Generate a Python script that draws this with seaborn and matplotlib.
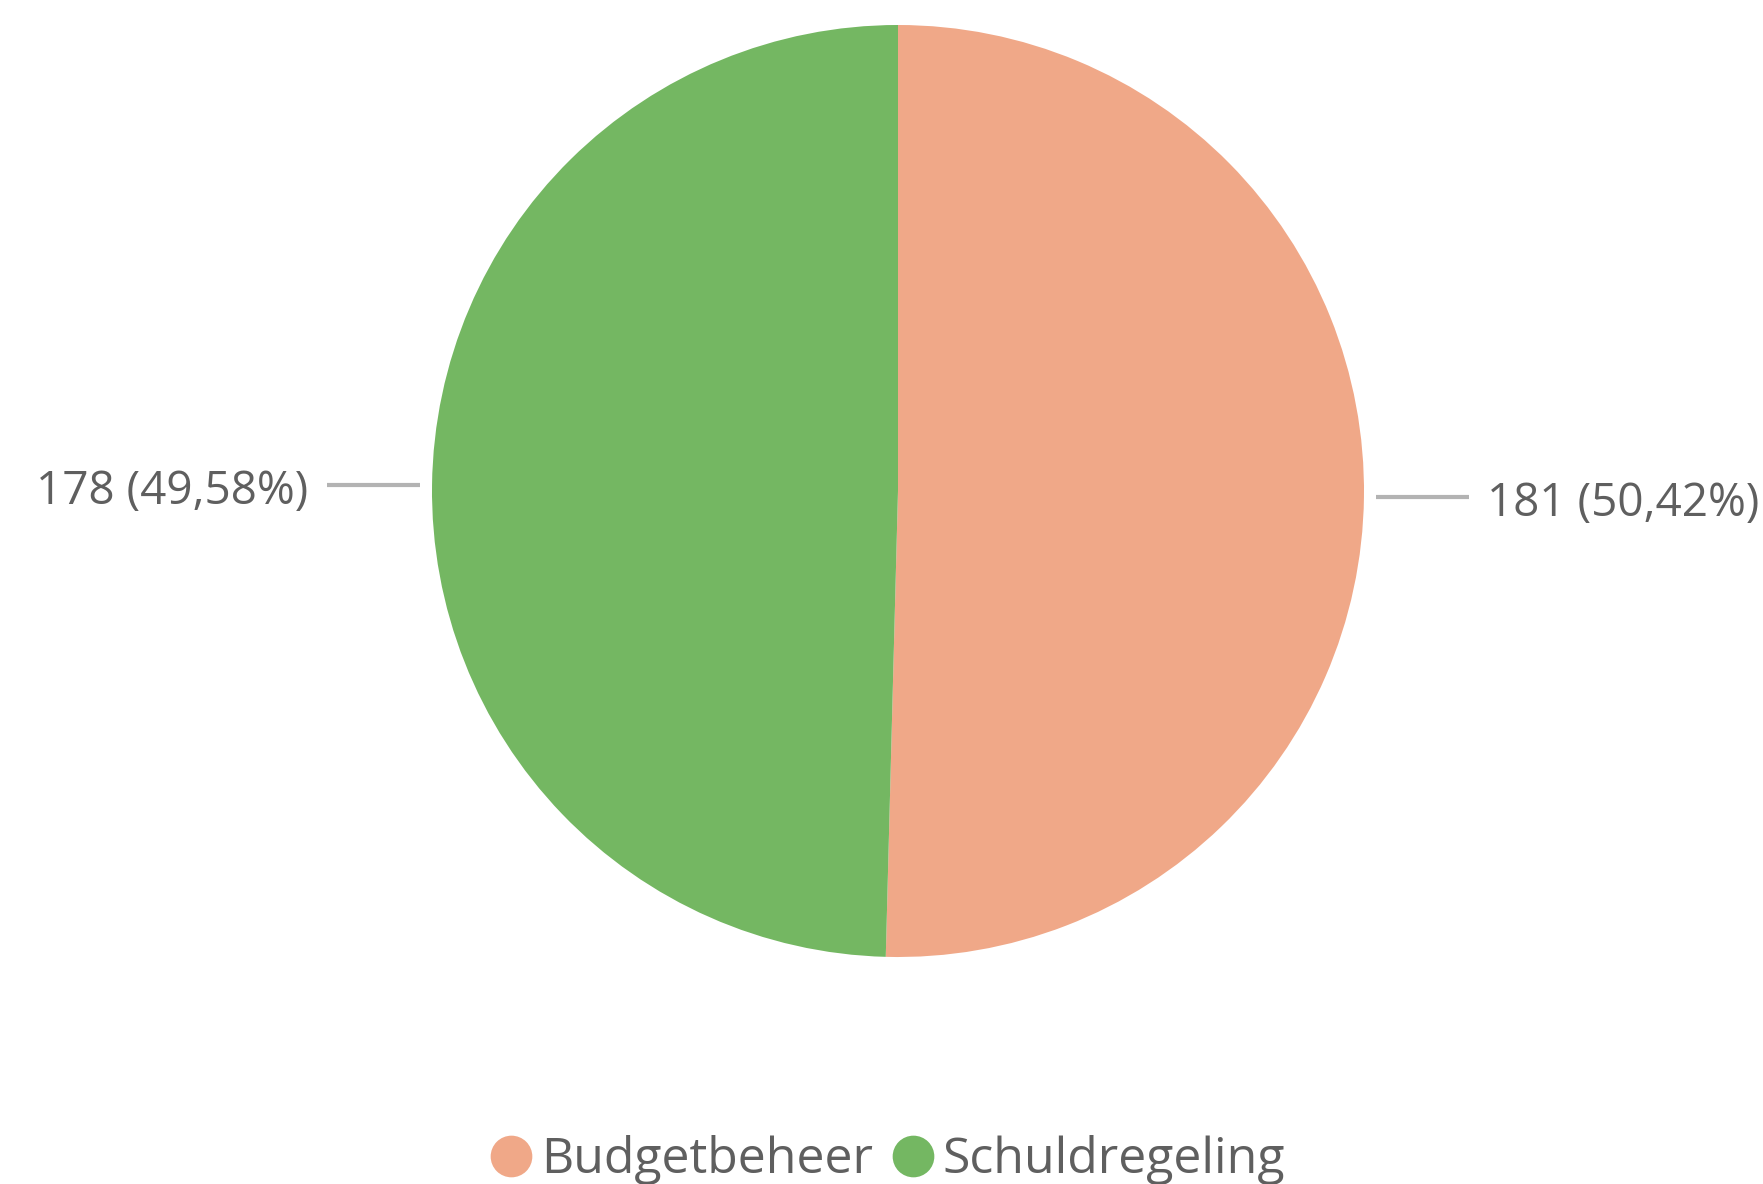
import numpy as np
import matplotlib
matplotlib.use('Agg')
import matplotlib.pyplot as plt
from matplotlib.lines import Line2D
import seaborn as sns

categories = ['Budgetbeheer', 'Schuldregeling']
counts = [181, 178]
colors = ['#F0A888', '#74B762']

sns.set_theme(style='white')
plt.rcParams['font.family'] = ['Open Sans', 'DejaVu Sans']
text_color = '#5f5f5f'
line_color = '#b3b3b3'

W, H = 1763, 1184
fig = plt.figure(figsize=(W / 100, H / 100), dpi=100)
ax = fig.add_axes([0, 0, 1, 1])

wedges, _ = ax.pie(
    counts,
    colors=colors,
    startangle=90,
    counterclock=False,
    wedgeprops={'linewidth': 0},
)

# pixel layout of the pie: centre and radius
cx, cy, r = 898, 491, 466
ax.set_xlim(-cx / r, (W - cx) / r)
ax.set_ylim(-(H - cy) / r, cy / r)
ax.set_aspect('equal')
ax.axis('off')

total = sum(counts)
for w, v in zip(wedges, counts):
    ang = np.deg2rad((w.theta1 + w.theta2) / 2)
    x0, y0 = np.cos(ang), np.sin(ang)
    side = np.sign(x0)
    xs = side * 1.025
    xe = side * 1.225
    ax.plot([xs, xe], [y0, y0], color=line_color, lw=3, solid_capstyle='butt')
    label = f'{v} ({v / total * 100:.2f}%)'.replace('.', ',')
    ax.text(xe + side * 0.04, y0 - 0.015, label, ha='left' if side > 0 else 'right',
            va='center', fontsize=33, color=text_color)

handles = [Line2D([0], [0], marker='o', linestyle='none', markersize=30,
                  markerfacecolor=c, markeredgewidth=0) for c in colors]
fig.legend(handles, categories, loc='center', bbox_to_anchor=(0.503, 0.02),
           ncol=2, frameon=False, fontsize=36, handletextpad=0.15,
           columnspacing=0.35, labelcolor=text_color, handlelength=0.9)

fig.savefig('out.png', dpi=100, facecolor='white')
